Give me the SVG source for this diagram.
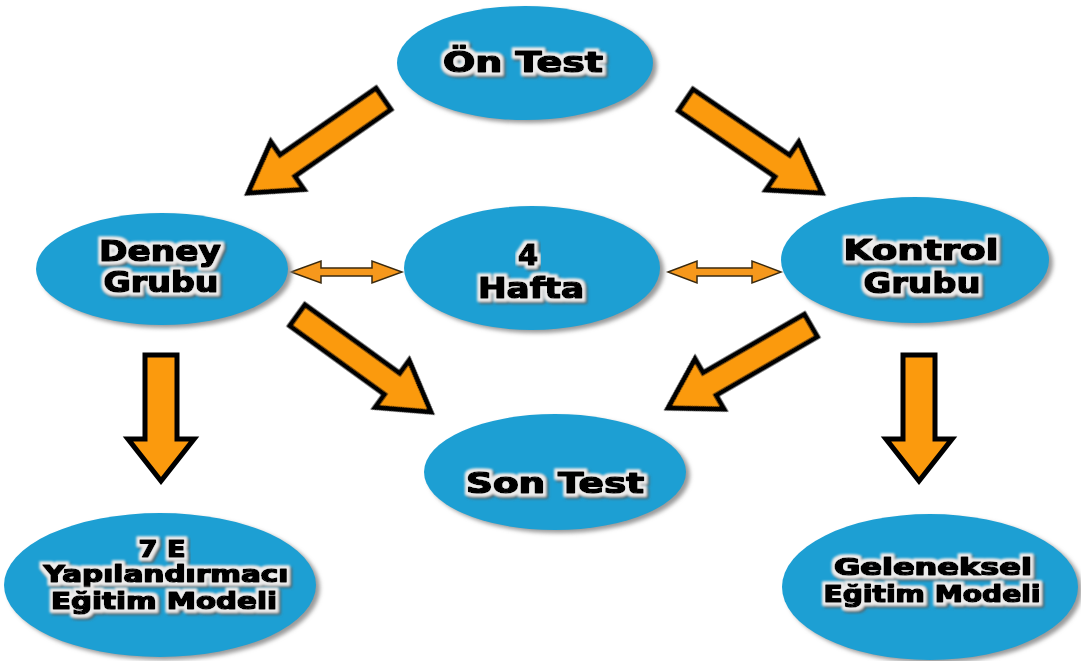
<svg xmlns="http://www.w3.org/2000/svg" width="1081" height="661" viewBox="0 0 1081 661">
  <defs>
    <filter id="soft" x="-10%" y="-10%" width="120%" height="120%">
      <feGaussianBlur stdDeviation="2"/>
    </filter>
    <!-- black lettering with a light halo and a grey drop shadow -->
    <filter id="txtHalo" x="-10%" y="-30%" width="120%" height="160%">
      <feMorphology in="SourceAlpha" operator="dilate" radius="2.5" result="d"/>
      <feGaussianBlur in="d" stdDeviation="1" result="db"/>
      <feFlood flood-color="#ececec"/>
      <feComposite in2="db" operator="in" result="halo"/>
      <feOffset in="d" dx="2" dy="2" result="dOff"/>
      <feGaussianBlur in="dOff" stdDeviation="1.5" result="dOffB"/>
      <feFlood flood-color="#5e5e5e"/>
      <feComposite in2="dOffB" operator="in" result="shade"/>
      <feMerge><feMergeNode in="shade"/><feMergeNode in="halo"/><feMergeNode in="SourceGraphic"/></feMerge>
    </filter>
    <filter id="edge" x="-10%" y="-10%" width="120%" height="120%">
      <feGaussianBlur stdDeviation="0.7"/>
    </filter>
    <!-- block arrow, tip at origin pointing +x -->
    <polygon id="bigArrow" points="-165,-13 -48,-13 -48,-29 0,0 -48,29 -48,13 -165,13"/>
    <polygon id="downArrow" points="-126,-16 -42,-16 -42,-33 0,0 -42,33 -42,16 -126,16"/>
  </defs>
  <style>
    .shadow { fill: #9a9a9a; filter: url(#soft); }
    .node { fill: #1d9fd3; }
    .label { font-family: "DejaVu Sans", "Liberation Sans", sans-serif; font-weight: bold; fill: #000000; stroke: #000000; stroke-width: 1.6; stroke-linejoin: round; text-anchor: middle; filter: url(#txtHalo); }
    .big { font-size: 29px; }
    .small { font-size: 22.5px; }
    .arrow { fill: #fb9a0e; stroke: #000000; stroke-width: 5; stroke-linejoin: miter; filter: url(#edge); }
    .thin { fill: #f6981c; stroke: #3a2a10; stroke-width: 1.5; stroke-linejoin: miter; }
  </style>

  <rect width="1081" height="661" fill="#ffffff"/>

  <g id="connectors">
    <use href="#bigArrow" class="arrow" transform="translate(248,193) rotate(145.2)"/>
    <use href="#bigArrow" class="arrow" transform="translate(822,193) rotate(34.3)"/>
    <use href="#bigArrow" class="arrow" transform="translate(431,412) rotate(35.9)"/>
    <use href="#bigArrow" class="arrow" transform="translate(668,408) rotate(150)"/>
    <use href="#downArrow" class="arrow" transform="translate(161,481) rotate(90)"/>
    <use href="#downArrow" class="arrow" transform="translate(919,481) rotate(90)"/>
    <polygon class="thin" points="291,272 321,261 321,268 372,268 372,261 402,272 372,283 372,276 321,276 321,283"/>
    <polygon class="thin" points="668,272 697,261 697,268 752,268 752,261 781,272 752,283 752,276 697,276 697,283"/>
  </g>

  <g id="on-test">
    <ellipse class="shadow" cx="529" cy="66" rx="128" ry="57"/>
    <ellipse class="node" cx="525" cy="63" rx="128" ry="57"/>
    <text class="label big" x="523" y="72" textLength="160" lengthAdjust="spacingAndGlyphs">Ön Test</text>
  </g>

  <g id="deney-grubu">
    <ellipse class="shadow" cx="166" cy="272" rx="126" ry="56"/>
    <ellipse class="node" cx="162" cy="269" rx="126" ry="56"/>
    <text class="label big" x="160" y="261" textLength="122" lengthAdjust="spacingAndGlyphs">Deney</text>
    <text class="label big" x="161" y="292" textLength="115" lengthAdjust="spacingAndGlyphs">Grubu</text>
  </g>

  <g id="hafta">
    <ellipse class="shadow" cx="536" cy="271" rx="128" ry="62"/>
    <ellipse class="node" cx="532" cy="268" rx="128" ry="62"/>
    <text class="label big" x="528" y="265">4</text>
    <text class="label big" x="531" y="298" textLength="106" lengthAdjust="spacingAndGlyphs">Hafta</text>
  </g>

  <g id="kontrol-grubu">
    <ellipse class="shadow" cx="919" cy="263" rx="134" ry="63"/>
    <ellipse class="node" cx="915" cy="260" rx="134" ry="63"/>
    <text class="label big" x="921" y="260" textLength="155" lengthAdjust="spacingAndGlyphs">Kontrol</text>
    <text class="label big" x="922" y="293" textLength="117" lengthAdjust="spacingAndGlyphs">Grubu</text>
  </g>

  <g id="son-test">
    <ellipse class="shadow" cx="559" cy="475" rx="131" ry="58"/>
    <ellipse class="node" cx="555" cy="472" rx="131" ry="58"/>
    <text class="label big" x="555" y="493" textLength="178" lengthAdjust="spacingAndGlyphs">Son Test</text>
  </g>

  <g id="yapilandirmaci">
    <ellipse class="shadow" cx="164" cy="588" rx="156" ry="72"/>
    <ellipse class="node" cx="160" cy="585" rx="156" ry="72"/>
    <text class="label small" x="162" y="557" textLength="47" lengthAdjust="spacingAndGlyphs">7 E</text>
    <text class="label small" x="166" y="582" textLength="245" lengthAdjust="spacingAndGlyphs">Yapılandırmacı</text>
    <text class="label small" x="164" y="609" textLength="226" lengthAdjust="spacingAndGlyphs">Eğitim Modeli</text>
  </g>

  <g id="geleneksel">
    <ellipse class="shadow" cx="934" cy="590" rx="148" ry="73"/>
    <ellipse class="node" cx="930" cy="587" rx="148" ry="73"/>
    <text class="label small" x="933" y="575" textLength="198" lengthAdjust="spacingAndGlyphs">Geleneksel</text>
    <text class="label small" x="932" y="602" textLength="217" lengthAdjust="spacingAndGlyphs">Eğitim Modeli</text>
  </g>
</svg>
